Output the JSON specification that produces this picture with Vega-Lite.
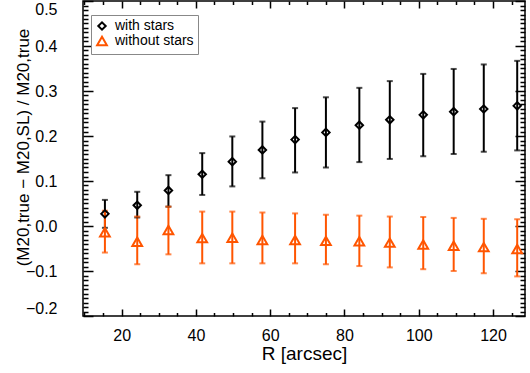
{
  "$schema": "https://vega.github.io/schema/vega-lite/v6.json",
  "width": 442,
  "height": 315,
  "autosize": {"type": "none"},
  "padding": {"left": 83, "top": 1, "right": 5, "bottom": 57},
  "background": "white",
  "config": {
    "view": {"stroke": "black", "strokeWidth": 1.5},
    "axis": {"labelFont": "Liberation Sans", "titleFont": "Liberation Sans", "labelColor": "black", "titleColor": "black", "labelFontSize": 16, "titleFontSize": 17, "titleFontWeight": "normal", "domain": false, "ticks": false, "tickSize": 0, "gridColor": "black", "gridWidth": 1.5, "gridOpacity": 1},
    "legend": {"labelFont": "Liberation Sans", "labelFontSize": 14}
  },
  "data": {"values": [
    {"R": 15.5, "series": "with stars", "y": 0.027, "lo": -0.004, "hi": 0.058},
    {"R": 24.2, "series": "with stars", "y": 0.046, "lo": 0.019, "hi": 0.076},
    {"R": 32.6, "series": "with stars", "y": 0.079, "lo": 0.043, "hi": 0.113},
    {"R": 41.7, "series": "with stars", "y": 0.115, "lo": 0.069, "hi": 0.162},
    {"R": 49.8, "series": "with stars", "y": 0.143, "lo": 0.088, "hi": 0.199},
    {"R": 57.9, "series": "with stars", "y": 0.169, "lo": 0.106, "hi": 0.232},
    {"R": 66.7, "series": "with stars", "y": 0.192, "lo": 0.119, "hi": 0.262},
    {"R": 75.0, "series": "with stars", "y": 0.208, "lo": 0.130, "hi": 0.286},
    {"R": 84.0, "series": "with stars", "y": 0.224, "lo": 0.142, "hi": 0.307},
    {"R": 92.2, "series": "with stars", "y": 0.236, "lo": 0.149, "hi": 0.322},
    {"R": 101.2, "series": "with stars", "y": 0.247, "lo": 0.155, "hi": 0.338},
    {"R": 109.4, "series": "with stars", "y": 0.254, "lo": 0.160, "hi": 0.349},
    {"R": 117.5, "series": "with stars", "y": 0.260, "lo": 0.165, "hi": 0.359},
    {"R": 126.5, "series": "with stars", "y": 0.267, "lo": 0.168, "hi": 0.367},
    {"R": 15.5, "series": "without stars", "y": -0.014, "lo": -0.059, "hi": 0.034},
    {"R": 24.2, "series": "without stars", "y": -0.035, "lo": -0.085, "hi": 0.021},
    {"R": 32.6, "series": "without stars", "y": -0.009, "lo": -0.063, "hi": 0.043},
    {"R": 41.7, "series": "without stars", "y": -0.027, "lo": -0.083, "hi": 0.032},
    {"R": 49.8, "series": "without stars", "y": -0.026, "lo": -0.083, "hi": 0.032},
    {"R": 57.9, "series": "without stars", "y": -0.031, "lo": -0.083, "hi": 0.030},
    {"R": 66.7, "series": "without stars", "y": -0.031, "lo": -0.083, "hi": 0.028},
    {"R": 75.0, "series": "without stars", "y": -0.033, "lo": -0.085, "hi": 0.025},
    {"R": 84.0, "series": "without stars", "y": -0.034, "lo": -0.089, "hi": 0.023},
    {"R": 92.2, "series": "without stars", "y": -0.037, "lo": -0.092, "hi": 0.021},
    {"R": 101.2, "series": "without stars", "y": -0.041, "lo": -0.096, "hi": 0.020},
    {"R": 109.4, "series": "without stars", "y": -0.044, "lo": -0.100, "hi": 0.018},
    {"R": 117.5, "series": "without stars", "y": -0.047, "lo": -0.105, "hi": 0.016},
    {"R": 126.5, "series": "without stars", "y": -0.051, "lo": -0.112, "hi": 0.015}
  ]},
  "resolve": {"axis": {"x": "independent", "y": "independent"}},
  "layer": [
    {
      "transform": [{"filter": "datum.series === 'with stars'"}],
      "mark": {"type": "rule", "strokeWidth": 2, "color": "black"},
      "encoding": {
        "x": {"field": "R", "type": "quantitative", "scale": {"domain": [9.6, 128.6], "nice": false, "zero": false},
              "axis": {"orient": "bottom", "values": [20, 40, 60, 80, 100, 120], "grid": false, "labelPadding": 11, "title": "R [arcsec]", "titleFontSize": 19, "titlePadding": 1}},
        "y": {"field": "lo", "type": "quantitative", "scale": {"domain": [-0.2, 0.5], "nice": false, "zero": false},
              "axis": {"orient": "left", "values": [-0.2, -0.1, 0, 0.1, 0.2, 0.3, 0.4, 0.5], "format": ".1f", "grid": false, "labelPadding": 26, "labelFlush": true, "title": "(M20,true − M20,SL) / M20,true", "titleX": -55, "titleY": 146, "titleBaseline": "alphabetic"}},
        "y2": {"field": "hi"}
      }
    },
    {
      "transform": [{"filter": "datum.series === 'without stars'"}],
      "mark": {"type": "rule", "strokeWidth": 2, "color": "#ff5500"},
      "encoding": {
        "x": {"field": "R", "type": "quantitative", "axis": {"orient": "bottom", "values": [20, 40, 60, 80, 100, 120], "labels": false, "grid": true, "gridDash": [7, 301, 7], "title": null}},
        "y": {"field": "lo", "type": "quantitative", "axis": {"orient": "left", "values": [-0.2, -0.1, 0, 0.1, 0.2, 0.3, 0.4, 0.5], "labels": false, "grid": true, "gridDash": [10, 422, 10], "title": null}},
        "y2": {"field": "hi"}
      }
    },
    {
      "transform": [{"filter": "datum.series === 'with stars'"}, {"fold": ["lo", "hi"], "as": ["end", "val"]}],
      "mark": {"type": "tick", "orient": "horizontal", "size": 6, "thickness": 2, "color": "black"},
      "encoding": {
        "x": {"field": "R", "type": "quantitative", "axis": {"orient": "bottom", "values": [10, 15, 25, 30, 35, 45, 50, 55, 65, 70, 75, 85, 90, 95, 105, 110, 115, 125], "labels": false, "grid": true, "gridDash": [3.5, 308, 3.5], "title": null}},
        "y": {"field": "val", "type": "quantitative", "axis": {"orient": "left", "values": [-0.19, -0.18, -0.17, -0.16, -0.15, -0.14, -0.13, -0.12, -0.11, -0.09, -0.08, -0.07, -0.06, -0.05, -0.04, -0.03, -0.02, -0.01, 0.01, 0.02, 0.03, 0.04, 0.05, 0.06, 0.07, 0.08, 0.09, 0.11, 0.12, 0.13, 0.14, 0.15, 0.16, 0.17, 0.18, 0.19, 0.21, 0.22, 0.23, 0.24, 0.25, 0.26, 0.27, 0.28, 0.29, 0.31, 0.32, 0.33, 0.34, 0.35, 0.36, 0.37, 0.38, 0.39, 0.41, 0.42, 0.43, 0.44, 0.45, 0.46, 0.47, 0.48, 0.49], "labels": false, "grid": true, "gridDash": [5, 432, 5], "title": null}}
      }
    },
    {
      "transform": [{"filter": "datum.series === 'without stars'"}, {"fold": ["lo", "hi"], "as": ["end", "val"]}],
      "mark": {"type": "tick", "orient": "horizontal", "size": 6, "thickness": 2, "color": "#ff5500"},
      "encoding": {
        "x": {"field": "R", "type": "quantitative", "axis": null},
        "y": {"field": "val", "type": "quantitative", "axis": null}
      }
    },
    {
      "mark": {"type": "point", "filled": false, "strokeWidth": 2, "opacity": 1},
      "encoding": {
        "x": {"field": "R", "type": "quantitative", "axis": null},
        "y": {"field": "y", "type": "quantitative", "axis": null},
        "color": {"field": "series", "type": "nominal", "title": null, "scale": {"domain": ["with stars", "without stars"], "range": ["black", "#ff5500"]},
                  "legend": {"orient": "none", "legendX": 8, "legendY": 14, "strokeColor": "#888", "fillColor": "white", "padding": 4, "rowPadding": -8, "symbolStrokeWidth": 2, "labelOffset": 6, "symbolSize": 50, "cornerRadius": 0}},
        "shape": {"field": "series", "type": "nominal", "title": null, "scale": {"domain": ["with stars", "without stars"], "range": ["diamond", "triangle-up"]}},
        "size": {"field": "series", "type": "nominal", "scale": {"domain": ["with stars", "without stars"], "range": [55, 95]}, "legend": null}
      }
    }
  ]
}
